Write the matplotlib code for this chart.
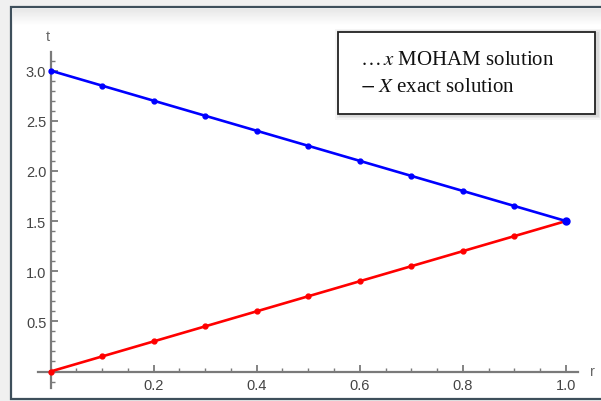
import matplotlib
matplotlib.use("Agg")
import matplotlib.pyplot as plt
import numpy as np
from matplotlib.patches import Rectangle
from matplotlib.ticker import MultipleLocator, FixedLocator

# ---- data ----
r_vals = [0.0, 0.1, 0.2, 0.3, 0.4, 0.5, 0.6, 0.7, 0.8, 0.9, 1.0]
t_upper = [3.0, 2.85, 2.7, 2.55, 2.4, 2.25, 2.1, 1.95, 1.8, 1.65, 1.5]
t_lower = [0.0, 0.15, 0.3, 0.45, 0.6, 0.75, 0.9, 1.05, 1.2, 1.35, 1.5]
x_ticks = [0.2, 0.4, 0.6, 0.8, 1.0]
y_ticks = [0.5, 1.0, 1.5, 2.0, 2.5, 3.0]
legend_line1 = r"$\ldots\,x$ MOHAM solution"
legend_line2 = r"$-\;X$ exact solution"

W, H = 601, 402
plt.rcParams['mathtext.fontset'] = 'stix'

fig = plt.figure(figsize=(W / 100, H / 100), dpi=100, facecolor='#f0f0f0')

def fx(px):
    return px / W

def fy(py):
    return 1 - py / H

# panel (white with dark frame)
panel = Rectangle((fx(11), fy(400)), fx(620) - fx(11), fy(8) - fy(400),
                  transform=fig.transFigure, facecolor='white',
                  edgecolor='#3e4f5b', linewidth=1.6, zorder=0)
fig.patches.append(panel)
# soft shadow gradient near top of panel
grad = np.linspace(0, 1, 64).reshape(-1, 1)
gax = fig.add_axes([fx(12.5), fy(26), fx(601) - fx(12.5), fy(9.5) - fy(26)], zorder=0.5)
gax.imshow(grad, aspect='auto', cmap=matplotlib.colors.LinearSegmentedColormap.from_list(
    'g', ['#e6e6e6', '#ffffff']), extent=[0, 1, 0, 1], origin='upper')
gax.axis('off')

# axes geometry (pixels)
x0_px, x_scale = 50.5, 515.5
y0_px, y_scale = 372.5, 100.3
ax_l, ax_r, ax_t, ax_b = 38, 578, 53, 389
ax = fig.add_axes([fx(ax_l), fy(ax_b), fx(ax_r) - fx(ax_l), fy(ax_t) - fy(ax_b)], zorder=2)
ax.patch.set_alpha(0)
ax.set_xlim((ax_l - x0_px) / x_scale, (ax_r - x0_px) / x_scale)
ax.set_ylim((y0_px - ax_b) / y_scale, (y0_px - ax_t) / y_scale)

for s in ['top', 'right']:
    ax.spines[s].set_visible(False)
ax.spines['left'].set_position(('data', 0))
ax.spines['bottom'].set_position(('data', 0))
axis_col = '#7a7a7a'
for s in ['left', 'bottom']:
    ax.spines[s].set_color(axis_col)
    ax.spines[s].set_linewidth(1.6)

ax.xaxis.set_major_locator(FixedLocator(x_ticks))
ax.yaxis.set_major_locator(FixedLocator(y_ticks))
ax.xaxis.set_minor_locator(MultipleLocator(0.05))
ax.yaxis.set_minor_locator(MultipleLocator(0.1))
ax.set_xticklabels([f"{v:.1f}" for v in x_ticks])
ax.set_yticklabels([f"{v:.1f}" for v in y_ticks])
ax.tick_params(which='major', direction='in', length=5, width=1.3, color=axis_col,
               labelsize=10.5, labelcolor='#444444')
ax.tick_params(which='minor', direction='in', length=3, width=1.0, color=axis_col)
ax.tick_params(axis='x', pad=5)
ax.tick_params(axis='y', pad=3)
for lab in ax.get_xticklabels() + ax.get_yticklabels():
    lab.set_fontfamily('Liberation Sans')

ax.plot(r_vals, t_lower, color='#ff0000', linewidth=1.9, marker='o', markersize=3.5,
        clip_on=False, zorder=3)
ax.plot(r_vals, t_upper, color='#0000ff', linewidth=1.9, marker='o', markersize=3.5,
        clip_on=False, zorder=4)
ax.plot([r_vals[-1]], [t_upper[-1]], 'o', color='#0000ff', markersize=5, clip_on=False, zorder=5)

# axis labels
fig.text(fx(48), fy(37), 't', fontsize=10.5, color='#666666', ha='center', va='center',
         family='Liberation Sans')
fig.text(fx(592), fy(372), 'r', fontsize=10.5, color='#666666', ha='center', va='center',
         family='Liberation Sans')

# legend box with shadow
for i, a in enumerate([0.06, 0.05, 0.04]):
    d = 1.5 + i * 1.5
    sh = Rectangle((fx(338 - d + 2), fy(115 + d + 1)), fx(595 + 2 * d) - fx(338), fy(33 - d) - fy(115 + d),
                   transform=fig.transFigure, facecolor='black', alpha=a, edgecolor='none', zorder=5)
    fig.patches.append(sh)
box = Rectangle((fx(338), fy(115)), fx(595) - fx(338), fy(33) - fy(115),
                transform=fig.transFigure, facecolor='white', edgecolor='#222222',
                linewidth=1.3, zorder=6)
fig.patches.append(box)
fig.text(fx(360), fy(65), legend_line1, fontsize=15, family='Liberation Serif',
         color='#111111', ha='left', va='baseline', zorder=7)
fig.text(fx(360), fy(92), legend_line2, fontsize=15, family='Liberation Serif',
         color='#111111', ha='left', va='baseline', zorder=7)

fig.savefig('out.png', dpi=100, facecolor=fig.get_facecolor())
